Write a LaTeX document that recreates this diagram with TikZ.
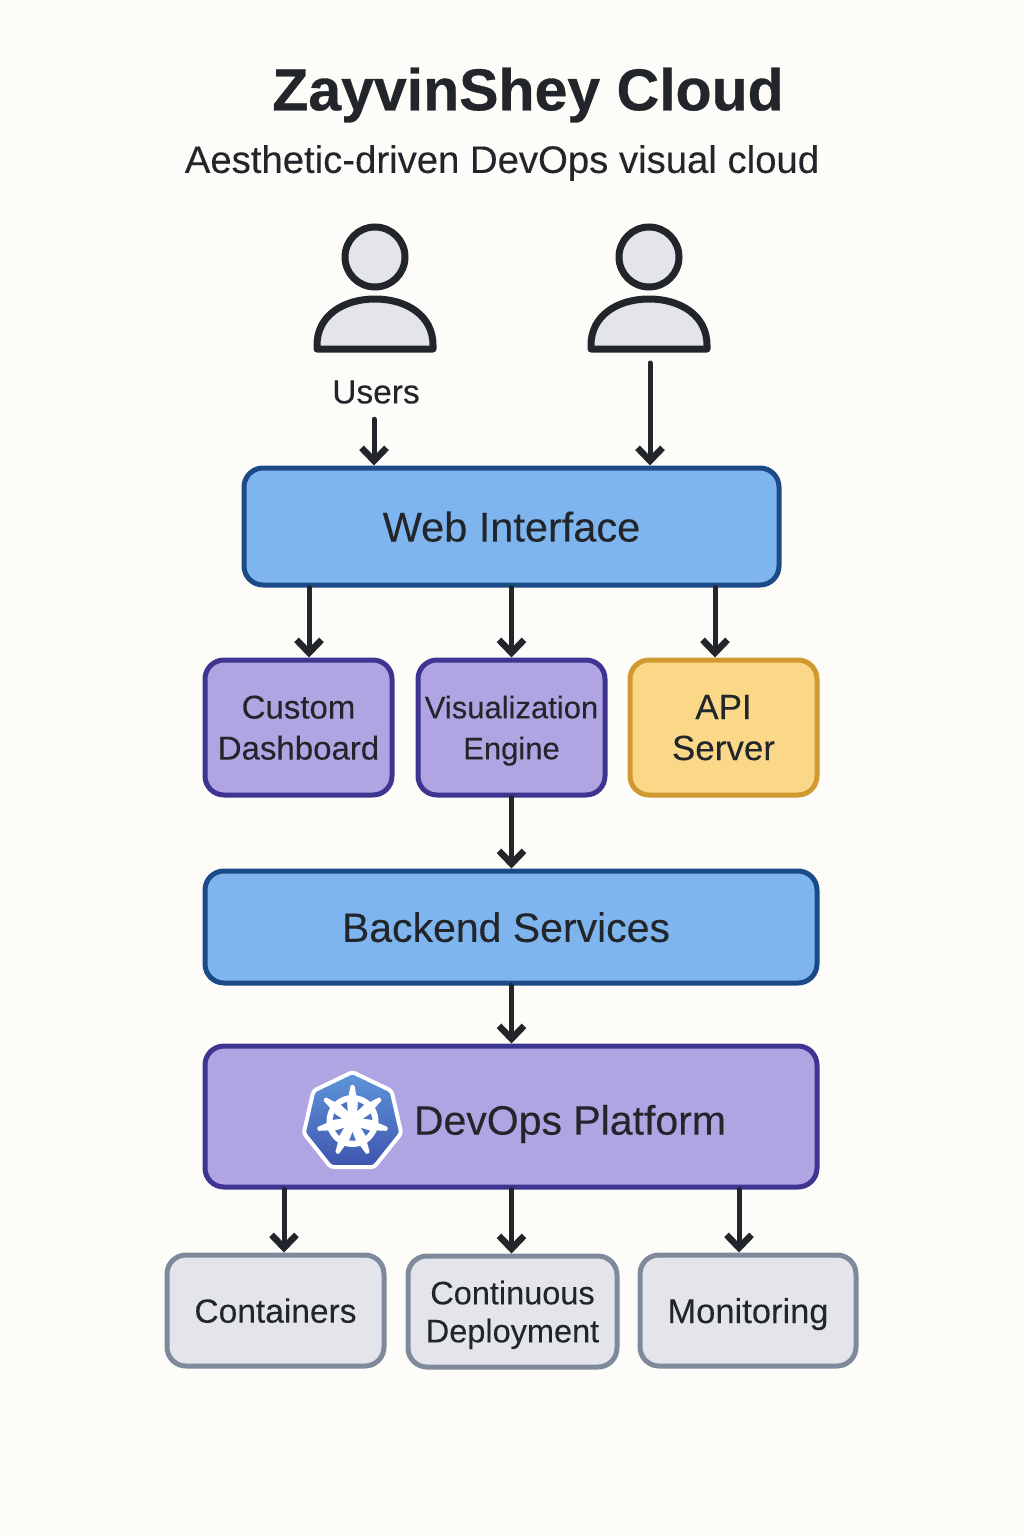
\documentclass[tikz,border=0pt]{standalone}
\usepackage{fontspec}
\setmainfont{Liberation Sans}[FakeBold=0.15]
\newfontfamily\titlefont{Liberation Sans}[FakeBold=0.6]
\usetikzlibrary{arrows.meta,shapes.geometric}
\definecolor{paper}{HTML}{FDFCF9}
\definecolor{ink}{HTML}{22262B}
\definecolor{bluefill}{HTML}{7FB5EF}
\definecolor{blueline}{HTML}{1C4A88}
\definecolor{purplefill}{HTML}{B1A4E2}
\definecolor{purpleline}{HTML}{3D3590}
\definecolor{yellowfill}{HTML}{FAD888}
\definecolor{yellowline}{HTML}{D09A30}
\definecolor{greyfill}{HTML}{E3E5EA}
\definecolor{greyline}{HTML}{7E8A9B}
\definecolor{kubetop}{HTML}{5E95DA}
\definecolor{kubebottom}{HTML}{3F55AE}
\begin{document}
\begin{tikzpicture}
		[x=1pt,y=-1pt,line cap=round,
		%Styles
		box/.style={rectangle,rounded corners=19pt,draw,line width=5pt,inner sep=0pt,align=center,text=ink,text depth=0pt},
		wide box/.style={box,fill=bluefill,draw=blueline,font=\fontsize{41.5}{46}\selectfont},
		small box/.style={box,minimum width=187pt,minimum height=135pt,font=\fontsize{33}{41}\selectfont},
		purple box/.style={small box,fill=purplefill,draw=purpleline},
		leaf box/.style={box,fill=greyfill,draw=greyline,minimum height=111pt,font=\fontsize{33.5}{38}\selectfont},
		flow/.style={draw=ink,line width=5pt,-{Straight Barb[length=13pt,width=25pt,line width=6.5pt]}},
		head/.style={circle,draw=ink,fill=greyfill,line width=7pt,minimum size=60pt,inner sep=0pt},
		body/.style={draw=ink,fill=greyfill,line width=7pt,line join=round}
		]
		
		\useasboundingbox[fill=paper] (0,0) rectangle (1024,1536);
		
		%Title
		\node[text=ink,font=\fontsize{59}{64}\titlefont\bfseries] (title) at (528,95) {ZayvinShey Cloud};
		\node[text=ink,font=\fontsize{38.3}{44}\selectfont] (subtitle) at (502,163) {Aesthetic-driven DevOps visual cloud};
		
		%Users
		\foreach \name/\x in {userA/375,userB/649}{
			\node[head] (\name) at (\x,257) {};
			\draw[body] (\x-58,345) .. controls (\x-58,316) and (\x-32,299) .. (\x,299)
				.. controls (\x+32,299) and (\x+58,316) .. (\x+58,345) -- (\x+58,349) -- (\x-58,349) -- cycle;
		}
		\node[text=ink,font=\fontsize{33.5}{38}\selectfont] (users) at (376,392) {Users};
		\coordinate (userB foot) at (650,363);
		
		%The boxes
		\node[wide box,minimum width=535pt,minimum height=117pt] (web) at (511.5,526.5) {Web Interface};
		\node[purple box] (dash) at (298.5,727.5) {Custom\\Dashboard};
		\node[purple box,font=\fontsize{31}{41}\selectfont] (vis) at (511.5,727.5) {Visualization\\Engine};
		\node[small box,fill=yellowfill,draw=yellowline,font=\fontsize{35}{41}\selectfont] (api) at (723.5,727.5) {API\\Server};
		\node[wide box,minimum width=612pt,minimum height=112pt,font=\fontsize{41}{46}\selectfont] (backend) at (511,927) {\hspace*{-10pt}Backend Services};
		\node[box,fill=purplefill,draw=purpleline,minimum width=612pt,minimum height=141pt] (devops) at (511,1116.5) {};
		\node[text=ink,font=\fontsize{41}{46}\selectfont] (devops text) at (570,1124) {DevOps Platform};
		\node[leaf box,minimum width=217pt] (containers) at (275.5,1310.5) {Containers};
		\node[leaf box,minimum width=209pt,font=\fontsize{32.5}{38}\selectfont] (deploy) at (512.5,1311.5) {Continuous\\Deployment};
		\node[leaf box,minimum width=216pt,font=\fontsize{34.5}{38}\selectfont] (monitor) at (748,1310.5) {Monitoring};
		
		%The wheel
		\node[regular polygon,regular polygon sides=7,minimum size=100pt,inner sep=0pt,draw=white,line width=4pt,
			rounded corners=3pt,top color=kubetop,bottom color=kubebottom] (kube) at (352.5,1122) {};
		\begin{scope}[shift={(352.5,1121)}]
			\fill[white] (0,0) circle (26pt);
			\foreach \a in {90,141.43,...,400}{
				\fill[white,rounded corners=1pt] (\a-12:22pt) -- (\a-3:36pt) -- (\a+3:36pt) -- (\a+12:22pt) -- cycle;
				\fill[kubetop!45!kubebottom] (\a+25.7:11pt) -- (\a+16:20pt) -- (\a+35.4:20pt) -- cycle;
			}
		\end{scope}
		
		%The arrows
		\draw[flow] (users.south) ++(-2,12) -- ([xshift=-137.5pt]web.north);
		\draw[flow] (userB foot) -- ([xshift=138.5pt]web.north);
		\draw[flow] ([xshift=-202.5pt]web.south) -- ([xshift=10.5pt]dash.north);
		\draw[flow] (web.south) -- (vis.north);
		\draw[flow] ([xshift=203.5pt]web.south) -- ([xshift=-8.5pt]api.north);
		\draw[flow] (vis.south) -- (backend.north -| vis.south);
		\draw[flow] (backend.south -| devops.north) ++(.5,0) -- ([xshift=.5pt]devops.north);
		\draw[flow] ([xshift=-227pt]devops.south) -- ([xshift=8.5pt]containers.north);
		\draw[flow] ([xshift=.5pt]devops.south) -- (deploy.north -| vis.south);
		\draw[flow] ([xshift=228pt]devops.south) -- ([xshift=-9pt]monitor.north);
	\end{tikzpicture}
\end{document}
